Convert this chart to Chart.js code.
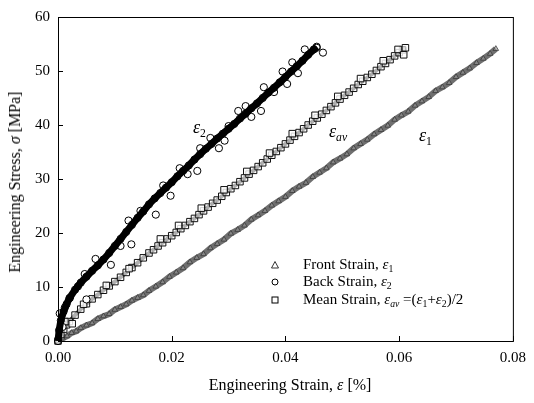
<!DOCTYPE html>
<html>
<head>
<meta charset="utf-8">
<script src="https://cdn.jsdelivr.net/npm/chart.js@4.4.0/dist/chart.umd.min.js"></script>
<style>
  html, body { margin: 0; padding: 0; background: #fff; }
  #wrap { position: relative; width: 534px; height: 403px; font-family: 'Liberation Serif', 'Times New Roman', serif; color: #000; }
  #chart { position: absolute; left: 0; top: 0; }
  .lbl { position: absolute; white-space: nowrap; line-height: 1; }
  .lbl i { font-style: italic; }
  .lbl sub { font-size: 65%; vertical-align: -0.35em; line-height: 0; }
  .leg { position: absolute; left: 270px; font-size: 15px; white-space: nowrap; line-height: 1; }
  .leg svg { position: absolute; left: 0; top: 3px; }
  .leg span { position: absolute; left: 33px; top: 0; }
</style>
</head>
<body>
<div id="wrap">
  <canvas id="chart" width="534" height="403"></canvas>
  <div class="lbl" style="left:15px;top:182px;font-size:16px;transform:translate(-50%,-50%) rotate(-90deg);">Engineering Stress, <i>σ</i> [MPa]</div>
  <div class="lbl" style="left:290px;top:385px;font-size:16px;transform:translate(-50%,-50%);">Engineering Strain, <i>ε</i> [%]</div>
  <div class="lbl" style="left:193px;top:118px;font-size:18px;"><i>ε</i><sub>2</sub></div>
  <div class="lbl" style="left:329px;top:122px;font-size:18px;"><i>ε</i><sub><i>av</i></sub></div>
  <div class="lbl" style="left:419px;top:126px;font-size:18px;"><i>ε</i><sub>1</sub></div>
  <div class="leg" style="top:257px;"><svg width="10" height="10"><polygon points="5,1.5 8.5,8 1.5,8" fill="none" stroke="#333" stroke-width="1"/></svg><span>Front Strain, <i>ε</i><sub style="font-size:65%;vertical-align:-0.35em;line-height:0">1</sub></span></div>
  <div class="leg" style="top:274px;"><svg width="10" height="10"><circle cx="5" cy="5" r="3" fill="none" stroke="#000" stroke-width="1"/></svg><span>Back Strain, <i>ε</i><sub style="font-size:65%;vertical-align:-0.35em;line-height:0">2</sub></span></div>
  <div class="leg" style="top:292px;"><svg width="10" height="10"><rect x="2" y="2" width="6" height="6" fill="none" stroke="#000" stroke-width="1"/></svg><span>Mean Strain, <i>ε</i><sub style="font-size:65%;vertical-align:-0.35em;line-height:0"><i>av</i></sub> =(<i>ε</i><sub style="font-size:65%;vertical-align:-0.35em;line-height:0">1</sub>+<i>ε</i><sub style="font-size:65%;vertical-align:-0.35em;line-height:0">2</sub>)/2</span></div>
</div>
<script>
// axis ticks
const xTicks = [0, 0.02, 0.04, 0.06, 0.08];
const yTicks = [0, 10, 20, 30, 40, 50, 60];

// front strain (triangles)
const frontStrain = [0.0000,0.0008,0.0016,0.0024,0.0032,0.0040,0.0050,0.0060,0.0070,0.0080,0.0090,0.0100,0.0110,0.0120,0.0130,0.0140,0.0150,0.0160,0.0172,0.0184,0.0196,0.0208,0.0220,0.0232,0.0244,0.0256,0.0268,0.0280,0.0292,0.0304,0.0316,0.0328,0.0340,0.0352,0.0364,0.0376,0.0388,0.0400,0.0412,0.0424,0.0436,0.0448,0.0460,0.0472,0.0484,0.0496,0.0508,0.0520,0.0532,0.0544,0.0556,0.0568,0.0580,0.0592,0.0604,0.0616,0.0628,0.0640,0.0652,0.0664,0.0676,0.0688,0.0700,0.0712,0.0724,0.0736,0.0748,0.0760,0.0770];
const frontStress = [0.0,0.5,0.9,1.5,1.8,2.4,2.9,3.3,4.1,4.6,5.0,5.8,6.3,6.8,7.5,8.0,8.5,9.3,10.1,10.9,11.9,12.7,13.5,14.6,15.4,16.1,17.2,18.0,18.8,19.9,20.6,21.4,22.5,23.3,24.1,25.1,25.9,26.7,27.8,28.6,29.3,30.4,31.2,32.0,33.1,33.8,34.6,35.7,36.5,37.3,38.3,39.1,39.9,41.0,41.8,42.5,43.6,44.4,45.2,46.3,47.0,47.8,48.9,49.7,50.5,51.5,52.3,53.2,54.1];

// back strain (circles): main band
const backStrain = [0.0000,0.0002,0.0005,0.0010,0.0015,0.0020,0.0030,0.0040,0.0050,0.0060,0.0070,0.0080,0.0090,0.0100,0.0110,0.0120,0.0130,0.0140,0.0150,0.0160,0.0170,0.0180,0.0190,0.0200,0.0210,0.0220,0.0230,0.0240,0.0250,0.0260,0.0270,0.0280,0.0290,0.0300,0.0310,0.0320,0.0330,0.0340,0.0350,0.0360,0.0370,0.0380,0.0390,0.0400,0.0410,0.0420,0.0430,0.0440,0.0450,0.0455];
const backStress = [0.0,2.0,3.8,5.5,6.8,7.9,9.5,10.8,11.9,13.0,14.0,15.1,16.3,17.6,18.9,20.2,21.5,22.8,24.0,25.3,26.4,27.4,28.4,29.4,30.5,31.5,32.5,33.6,34.6,35.6,36.5,37.5,38.4,39.3,40.2,41.2,42.1,43.1,44.0,45.0,46.0,46.9,47.9,48.9,49.9,50.9,51.9,53.0,54.0,54.5];
// back strain: scattered circles off the band
const backOutStrain = [0.0003,0.0012,0.0021,0.0035,0.0047,0.0050,0.0093,0.0124,0.0129,0.0145,0.0172,0.0198,0.0214,0.0245,0.0250,0.0283,0.0293,0.0300,0.0317,0.0340,0.0357,0.0362,0.0380,0.0395,0.0403,0.0412,0.0434,0.0455,0.0466,0.0008,0.0066,0.0110,0.0185,0.0228,0.0268,0.0330,0.0422];
const backOutStress = [5.1,6.2,8.0,10.1,12.4,7.7,14.1,22.3,17.9,24.1,23.4,26.9,32.0,31.5,35.7,35.7,37.1,39.8,42.6,41.5,42.6,47.0,46.1,49.9,47.6,51.6,54.0,54.3,53.4,2.6,15.2,17.6,28.8,30.9,37.6,43.5,49.6];

// mean strain (squares)
const meanStrain = [0.0000,0.0005,0.0010,0.0015,0.0020,0.0030,0.0040,0.0050,0.0060,0.0070,0.0080,0.0090,0.0100,0.0110,0.0120,0.0130,0.0140,0.0150,0.0160,0.0168,0.0176,0.0184,0.0192,0.0200,0.0208,0.0216,0.0224,0.0232,0.0240,0.0248,0.0256,0.0264,0.0272,0.0280,0.0288,0.0296,0.0304,0.0312,0.0320,0.0328,0.0336,0.0344,0.0352,0.0360,0.0368,0.0376,0.0384,0.0392,0.0400,0.0408,0.0416,0.0424,0.0432,0.0440,0.0448,0.0456,0.0464,0.0472,0.0480,0.0488,0.0496,0.0504,0.0512,0.0520,0.0528,0.0536,0.0544,0.0552,0.0560,0.0568,0.0576,0.0584,0.0592,0.0600,0.0606,0.0611];
const meanStress = [0.0,1.2,2.2,3.0,3.6,4.8,5.9,6.9,7.8,8.6,9.4,10.2,11.0,11.8,12.7,13.6,14.5,15.4,16.3,16.9,17.6,18.2,18.9,19.5,20.1,20.8,21.4,22.1,22.7,23.4,24.1,24.8,25.5,26.1,26.8,27.5,28.2,28.8,29.5,30.2,30.9,31.6,32.3,33.0,33.7,34.4,35.1,35.8,36.5,37.2,37.9,38.6,39.3,40.0,40.7,41.3,42.0,42.7,43.4,44.1,44.8,45.5,46.1,46.8,47.5,48.1,48.8,49.4,50.1,50.8,51.4,52.1,52.8,53.4,53.9,54.3];
// mean strain: squares slightly off the band
const meanOutStrain = [0.0012,0.0025,0.0045,0.0085,0.0125,0.0180,0.0212,0.0252,0.0292,0.0332,0.0372,0.0412,0.0452,0.0492,0.0532,0.0572,0.0598,0.0608];
const meanOutStress = [3.6,3.2,6.8,10.3,13.4,18.9,21.4,24.6,28.0,31.4,34.8,38.4,41.8,45.3,48.6,51.9,54.0,53.0];

const pts = (xs, ys) => xs.map((x, i) => ({ x: x, y: ys[i] }));

const FONT = "'Liberation Serif', 'Times New Roman', serif";

// frame box + inward ticks
const framePlugin = {
  id: 'frame',
  afterDraw(chart) {
    const { ctx, chartArea: a, scales } = chart;
    ctx.save();
    ctx.strokeStyle = '#000';
    ctx.lineWidth = 1;
    ctx.strokeRect(a.left + 0.5, a.top + 0.5, a.right - a.left, a.bottom - a.top);
    ctx.beginPath();
    xTicks.forEach(v => {
      const px = Math.round(scales.x.getPixelForValue(v)) + 0.5;
      ctx.moveTo(px, a.bottom);
      ctx.lineTo(px, a.bottom - 5);
    });
    yTicks.forEach(v => {
      const py = Math.round(scales.y.getPixelForValue(v)) + 0.5;
      ctx.moveTo(a.left, py);
      ctx.lineTo(a.left + 5, py);
    });
    ctx.stroke();
    ctx.restore();
  }
};

new Chart(document.getElementById('chart').getContext('2d'), {
  type: 'scatter',
  data: {
    datasets: [
      { label: 'Back Strain', data: pts(backStrain, backStress), showLine: true, borderColor: '#000', borderWidth: 7,
        pointStyle: 'circle', pointRadius: 3.6, pointBorderWidth: 1, pointBorderColor: '#000', pointBackgroundColor: 'rgba(255,255,255,0)', clip: 6 },
      { label: 'Back Strain scatter', data: pts(backOutStrain, backOutStress), showLine: false,
        pointStyle: 'circle', pointRadius: 3.6, pointBorderWidth: 1, pointBorderColor: '#000', pointBackgroundColor: '#fff', clip: 6 },
      { label: 'Mean Strain scatter', data: pts(meanOutStrain, meanOutStress), showLine: false,
        pointStyle: 'rect', pointRadius: 4.6, pointBorderWidth: 1, pointBorderColor: '#111', pointBackgroundColor: 'rgba(255,255,255,0.8)', clip: 6 },
      { label: 'Mean Strain', data: pts(meanStrain, meanStress), showLine: true, borderColor: '#3a3a3a', borderWidth: 4,
        pointStyle: 'rect', pointRadius: 4.6, pointBorderWidth: 1, pointBorderColor: '#111', pointBackgroundColor: 'rgba(255,255,255,0.6)', clip: 6 },
      { label: 'Front Strain', data: pts(frontStrain, frontStress), showLine: true, borderColor: '#6f6f6f', borderWidth: 6,
        pointStyle: 'triangle', pointRadius: 3.2, pointBorderWidth: 0.8, pointBorderColor: '#3a3a3a', pointBackgroundColor: 'rgba(150,150,150,0.6)', clip: 6 }
    ]
  },
  options: {
    responsive: false,
    animation: false,
    devicePixelRatio: 1,
    layout: { padding: { left: 0, right: 13, top: 13, bottom: 0 } },
    plugins: { legend: { display: false }, tooltip: { enabled: false } },
    scales: {
      x: {
        type: 'linear', min: 0, max: 0.08,
        afterBuildTicks: s => { s.ticks = xTicks.map(v => ({ value: v })); },
        afterFit: s => { s.height = 62; },
        ticks: { padding: 8, color: '#000', font: { family: FONT, size: 15 }, callback: v => Number(v).toFixed(2) },
        grid: { display: false, drawTicks: false },
        border: { display: false }
      },
      y: {
        type: 'linear', min: 0, max: 60,
        afterBuildTicks: s => { s.ticks = yTicks.map(v => ({ value: v })); },
        afterFit: s => { s.width = 58; },
        ticks: { padding: 8, color: '#000', font: { family: FONT, size: 15 }, callback: v => String(v) },
        grid: { display: false, drawTicks: false },
        border: { display: false }
      }
    }
  },
  plugins: [framePlugin]
});
</script>
</body>
</html>
